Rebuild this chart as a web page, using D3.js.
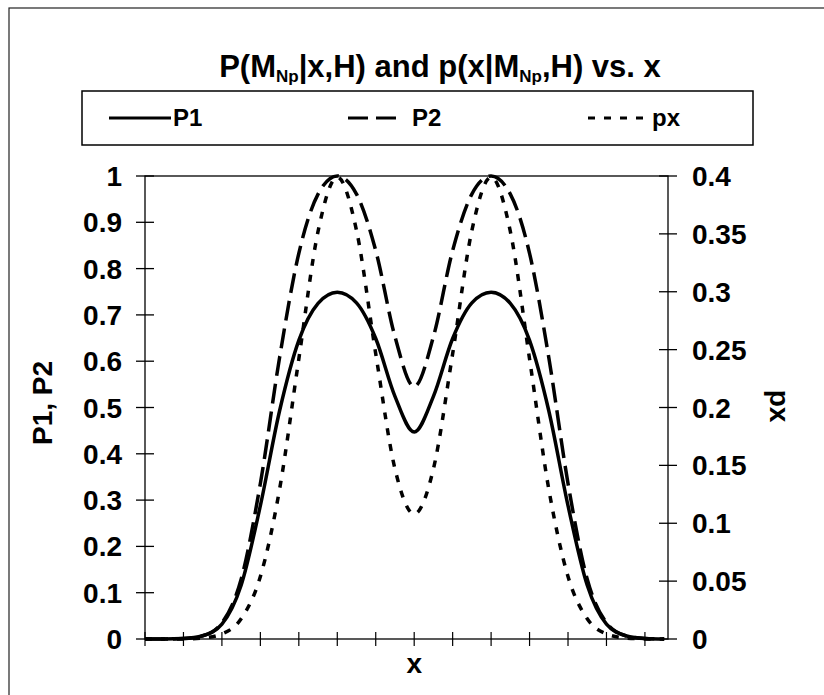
<!DOCTYPE html>
<html>
<head>
<meta charset="utf-8">
<script src="https://cdn.jsdelivr.net/npm/d3@7"></script>
<style>
body { margin: 0; background: #fff; }
text { font-family: "Liberation Sans", Arial, sans-serif; font-weight: bold; fill: #000; }
</style>
</head>
<body>
<div id="chart"></div>
<script>
var xVals = [-7, -6.5, -6, -5.5, -5, -4.5, -4, -3.5, -3, -2.5, -2, -1.5, -1, -0.5,
	     0, 0.5, 1, 1.5, 2, 2.5, 3, 3.5, 4, 4.5, 5, 5.5, 6, 6.5];
var p1Vals = [0, 0, 0.001, 0.007, 0.032, 0.116, 0.288, 0.493, 0.645, 0.725, 0.749, 0.726, 0.649, 0.524,
	      0.447, 0.524, 0.649, 0.726, 0.749, 0.725, 0.645, 0.493, 0.288, 0.116, 0.032, 0.007, 0.001, 0];
var p2Vals = [0, 0, 0.001, 0.007, 0.035, 0.129, 0.336, 0.608, 0.833, 0.961, 1.0, 0.961, 0.839, 0.653,
	      0.545, 0.653, 0.839, 0.961, 1.0, 0.961, 0.833, 0.608, 0.336, 0.129, 0.035, 0.007, 0.001, 0];
var pxVals = [0, 0, 0.0001, 0.0009, 0.0044, 0.0175, 0.054, 0.1295, 0.242, 0.3521, 0.3991, 0.353, 0.2464, 0.147,
	      0.108, 0.147, 0.2464, 0.353, 0.3991, 0.3521, 0.242, 0.1295, 0.054, 0.0175, 0.0044, 0.0009, 0.0001, 0];
var xTicks = [-7, -6, -5, -4, -3, -2, -1, 0, 1, 2, 3, 4, 5, 6];
var leftTicks = [0, 0.1, 0.2, 0.3, 0.4, 0.5, 0.6, 0.7, 0.8, 0.9, 1];
var rightTicks = [0, 0.05, 0.1, 0.15, 0.2, 0.25, 0.3, 0.35, 0.4];
var seriesNames = ["P1", "P2", "px"];

var width = 824, height = 695;
var plot = {left: 145, right: 668, top: 176, bottom: 639};

var svg = d3.select("#chart").append("svg")
    .attr("width", width)
    .attr("height", height);

// outer chart border (only top and left fall inside the picture)
svg.append("rect")
    .attr("x", 9).attr("y", 8)
    .attr("width", 900).attr("height", 800)
    .attr("fill", "none")
    .attr("stroke", "#222")
    .attr("stroke-width", 1.2);

var x = d3.scaleLinear()
    .domain([-7, 6.6])
    .range([plot.left, plot.right]);

var yL = d3.scaleLinear()
    .domain([0, 1])
    .range([plot.bottom, plot.top]);

var yR = d3.scaleLinear()
    .domain([0, 0.4])
    .range([plot.bottom, plot.top]);

// title
var title = svg.append("text")
    .attr("x", 440)
    .attr("y", 77)
    .attr("text-anchor", "middle")
    .style("font-size", "31px");
title.append("tspan").text("P(M");
title.append("tspan").attr("dy", 5).style("font-size", "17px").text("Np");
title.append("tspan").attr("dy", -5).text("|x,H) and p(x|M");
title.append("tspan").attr("dy", 5).style("font-size", "17px").text("Np");
title.append("tspan").attr("dy", -5).text(",H) vs. x");

// legend
var legend = svg.append("g");
legend.append("rect")
    .attr("x", 82).attr("y", 91)
    .attr("width", 671).attr("height", 54)
    .attr("fill", "none")
    .attr("stroke", "#000")
    .attr("stroke-width", 1.5);

var dashes = [null, "20,8", "7,9"];
var legendX = [109, 348, 588];
var legendLen = [62, 48, 62];
seriesNames.forEach(function(name, i) {
    legend.append("line")
	.attr("x1", legendX[i]).attr("x2", legendX[i] + legendLen[i])
	.attr("y1", 118).attr("y2", 118)
	.attr("stroke", "#000")
	.attr("stroke-width", 3)
	.attr("stroke-dasharray", dashes[i]);
    legend.append("text")
	.attr("x", legendX[i] + 64)
	.attr("y", 126)
	.style("font-size", "24px")
	.text(name);
});

// plot area border
svg.append("rect")
    .attr("x", plot.left).attr("y", plot.top)
    .attr("width", plot.right - plot.left).attr("height", plot.bottom - plot.top)
    .attr("fill", "none")
    .attr("stroke", "#000")
    .attr("stroke-width", 1.3);

// left axis
var gL = svg.append("g").attr("transform", "translate(" + plot.left + ",0)");
gL.selectAll("line").data(leftTicks).enter().append("line")
    .attr("x1", -9).attr("x2", 9)
    .attr("y1", function(d) { return yL(d) })
    .attr("y2", function(d) { return yL(d) })
    .attr("stroke", "#000").attr("stroke-width", 1.3);
gL.selectAll("text").data(leftTicks).enter().append("text")
    .attr("x", -23)
    .attr("y", function(d) { return yL(d) + 10 })
    .attr("text-anchor", "end")
    .style("font-size", "28px")
    .text(function(d) { return d3.format("~g")(d) });

// right axis
var gR = svg.append("g").attr("transform", "translate(" + plot.right + ",0)");
gR.selectAll("line").data(rightTicks).enter().append("line")
    .attr("x1", -9).attr("x2", 9)
    .attr("y1", function(d) { return yR(d) })
    .attr("y2", function(d) { return yR(d) })
    .attr("stroke", "#000").attr("stroke-width", 1.3);
gR.selectAll("text").data(rightTicks).enter().append("text")
    .attr("x", 24)
    .attr("y", function(d) { return yR(d) + 10 })
    .style("font-size", "28px")
    .text(function(d) { return d3.format("~g")(d) });

// x axis ticks (no labels)
svg.append("g").selectAll("line").data(xTicks).enter().append("line")
    .attr("x1", function(d) { return x(d) })
    .attr("x2", function(d) { return x(d) })
    .attr("y1", plot.bottom - 7).attr("y2", plot.bottom + 7)
    .attr("stroke", "#000").attr("stroke-width", 1.2);

// axis titles
svg.append("text")
    .attr("transform", "translate(52,403) rotate(-90)")
    .attr("text-anchor", "middle")
    .style("font-size", "28px")
    .text("P1, P2");

svg.append("text")
    .attr("transform", "translate(770,406) rotate(90)")
    .attr("text-anchor", "middle")
    .style("font-size", "28px")
    .text("px");

svg.append("text")
    .attr("x", x(0))
    .attr("y", 673)
    .attr("text-anchor", "middle")
    .style("font-size", "28px")
    .text("x");

// curves
var lineL = d3.line()
    .x(function(d, i) { return x(xVals[i]) })
    .y(function(d) { return yL(d) })
    .curve(d3.curveMonotoneX);

var lineR = d3.line()
    .x(function(d, i) { return x(xVals[i]) })
    .y(function(d) { return yR(d) })
    .curve(d3.curveMonotoneX);

svg.append("path")
    .datum(pxVals)
    .attr("d", lineR)
    .attr("fill", "none")
    .attr("stroke", "#000")
    .attr("stroke-width", 3.5)
    .attr("stroke-dasharray", dashes[2]);

svg.append("path")
    .datum(p2Vals)
    .attr("d", lineL)
    .attr("fill", "none")
    .attr("stroke", "#000")
    .attr("stroke-width", 3.5)
    .attr("stroke-dasharray", dashes[1]);

svg.append("path")
    .datum(p1Vals)
    .attr("d", lineL)
    .attr("fill", "none")
    .attr("stroke", "#000")
    .attr("stroke-width", 3.5);
</script>
</body>
</html>
